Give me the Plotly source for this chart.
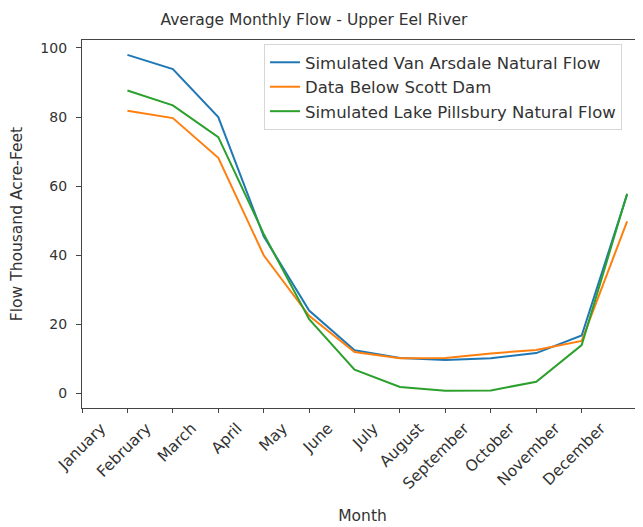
import plotly.graph_objects as go

months = ["January", "February", "March", "April", "May", "June", "July",
          "August", "September", "October", "November", "December"]
x_pos = [1, 2, 3, 4, 5, 6, 7, 8, 9, 10, 11, 12]
van_arsdale = [98.0, 93.9, 80.0, 45.5, 24.0, 12.5, 10.3, 9.7, 10.2, 11.7, 16.8, 57.6]
scott_dam = [81.8, 79.7, 68.2, 40.0, 22.5, 12.0, 10.2, 10.3, 11.6, 12.6, 15.2, 49.8]
pillsbury = [87.7, 83.4, 74.2, 46.2, 21.5, 6.9, 1.9, 0.8, 0.9, 3.4, 14.0, 57.8]

names = ["Simulated Van Arsdale Natural Flow", "Data Below Scott Dam",
         "Simulated Lake Pillsbury Natural Flow"]
colors = ["#1f77b4", "#ff7f0e", "#2ca02c"]

fig = go.Figure()
for name, vals, c in zip(names, [van_arsdale, scott_dam, pillsbury], colors):
    fig.add_trace(go.Scatter(x=x_pos, y=vals, mode="lines", name=name,
                             line=dict(color=c, width=2)))

font = "DejaVu Sans"
W, H = 635, 519
fig.update_layout(
    width=W, height=H,
    margin=dict(l=74, r=0, t=32, b=119),
    paper_bgcolor="white", plot_bgcolor="white",
    font=dict(family=font, size=14, color="#333"),
    title=dict(text="Average Monthly Flow - Upper Eel River", x=306 / W, xanchor="center",
               y=1 - 12 / H, yanchor="middle", font=dict(size=15.5, color="#333")),
    showlegend=True,
    legend=dict(x=(256 - 74) / 561, y=0.989, xanchor="left", yanchor="top",
                bgcolor="rgba(255,255,255,0.9)", bordercolor="#d6d6d6", borderwidth=1,
                font=dict(size=16.5, color="#333"), tracegroupgap=0, itemwidth=30),
)
fig.update_xaxes(
    range=[0, 12.35], tickmode="array", tickvals=list(range(12)), ticktext=months,
    tickangle=-45, ticklabelshift=19, ticks="outside", ticklen=4, tickcolor="#444",
    showline=True, linecolor="#444", linewidth=1.2, mirror=True,
    showgrid=False, zeroline=False,
    title=dict(text="Month", font=dict(size=15.5, color="#333"), standoff=18),
    tickfont=dict(size=15.5, color="#333"),
)
fig.update_yaxes(
    range=[-4.2, 102.3], tickvals=[0, 20, 40, 60, 80, 100],
    ticks="outside", ticklen=5, tickcolor="#444", ticklabelstandoff=6,
    showline=True, linecolor="#444", linewidth=1.2, mirror=False,
    showgrid=False, zeroline=False,
    title=dict(text="Flow Thousand Acre-Feet", font=dict(size=15.5, color="#333"), standoff=14),
    tickfont=dict(size=14, color="#333"),
)

fig.write_html("out.html")
